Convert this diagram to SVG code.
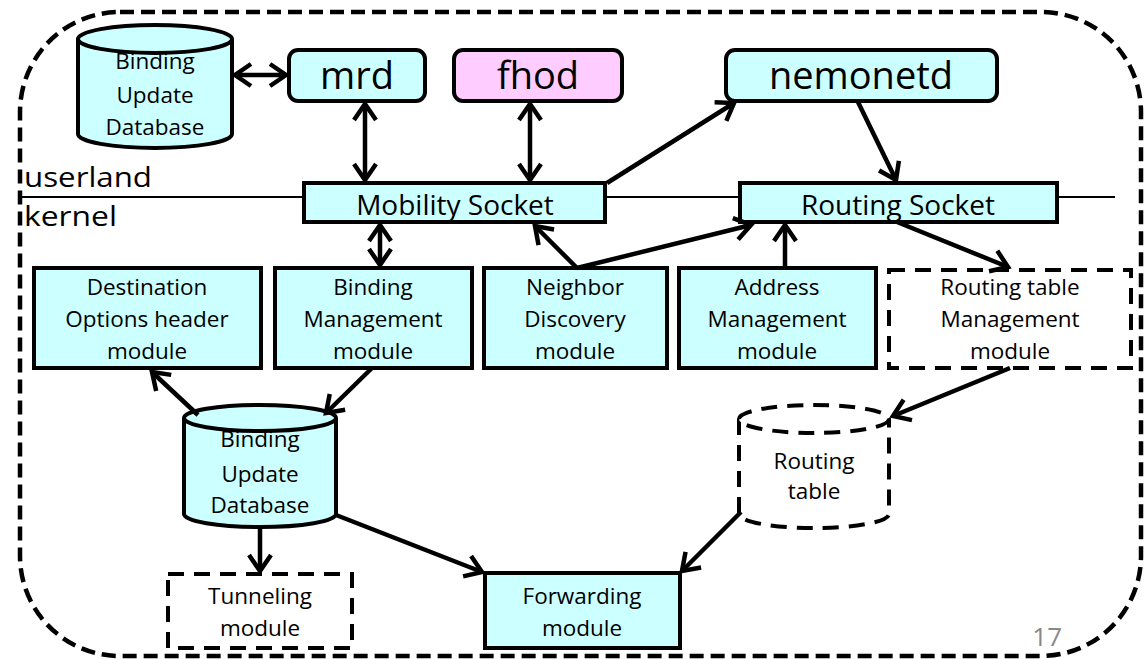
<svg xmlns="http://www.w3.org/2000/svg" width="1144" height="659" viewBox="0 0 1144 659">
<defs>
<marker id="ah" markerUnits="userSpaceOnUse" viewBox="-20 -14 26 28" markerWidth="26" markerHeight="28" refX="0" refY="0" orient="auto-start-reverse">
<path d="M-16,-11 L0,0 L-16,11" fill="none" stroke="#000" stroke-width="4.5" stroke-linejoin="miter"/>
</marker>
</defs>
<style>
text{font-family:"Open Sans","Noto Sans",sans-serif;fill:#000;text-anchor:middle}
.box{fill:#CCFFFF;stroke:#000;stroke-width:4}
.pink{fill:#FFCCFF;stroke:#000;stroke-width:4}
.dbox{fill:none;stroke:#000;stroke-width:4;stroke-dasharray:16 10}
.cyl{fill:#CCFFFF;stroke:#000;stroke-width:4}
.dcyl{fill:#fff;stroke:#000;stroke-width:4;stroke-dasharray:16 10}
.big{font-size:38px}
.sock{font-size:28px}
.mod{font-size:22.5px}
.side{font-size:28px;text-anchor:start}
.conn line{stroke:#000;stroke-width:4.5;marker-end:url(#ah)}
.conn line.both{marker-start:url(#ah)}
</style>
<rect id="boundary" x="20" y="12" width="1121" height="644" rx="100" ry="100" fill="none" stroke="#000" stroke-width="4.5" stroke-dasharray="14 7"/>
<line id="divider" x1="20" y1="197" x2="1115" y2="197" stroke="#000" stroke-width="2"/>
<text class="side" x="24" y="187" textLength="128" lengthAdjust="spacingAndGlyphs">userland</text>
<text class="side" x="24" y="226" textLength="93" lengthAdjust="spacingAndGlyphs">kernel</text>

<g id="bud-top">
<path class="cyl" d="M78,39 V134 A77,14 0 0 0 232,134 V39"/>
<text class="mod" x="155" y="69">Binding</text>
<text class="mod" x="155" y="103">Update</text>
<text class="mod" x="155" y="135">Database</text>
<ellipse class="cyl" cx="155" cy="39" rx="77" ry="14"/>
</g>
<g id="mrd"><rect class="box" x="289" y="50" width="136" height="51" rx="9"/><text class="big" x="357" y="89">mrd</text></g>
<g id="fhod"><rect class="pink" x="454" y="50" width="168" height="51" rx="9"/><text class="big" x="538" y="89">fhod</text></g>
<g id="nemonetd"><rect class="box" x="726" y="50" width="271" height="51" rx="9"/><text class="big" x="861" y="89">nemonetd</text></g>
<g id="mobility-socket"><rect class="box" x="304" y="183" width="301" height="39"/><text class="sock" x="455" y="215">Mobility Socket</text></g>
<g id="routing-socket"><rect class="box" x="740" y="183" width="317" height="39"/><text class="sock" x="898" y="215">Routing Socket</text></g>

<g id="dest-opt"><rect class="box" x="34" y="268" width="227" height="100"/><text class="mod" x="147" y="295">Destination</text><text class="mod" x="147" y="327">Options header</text><text class="mod" x="147" y="359">module</text></g>
<g id="binding-mgmt"><rect class="box" x="275" y="268" width="197" height="100"/><text class="mod" x="373" y="295">Binding</text><text class="mod" x="373" y="327">Management</text><text class="mod" x="373" y="359">module</text></g>
<g id="neighbor"><rect class="box" x="484" y="268" width="183" height="100"/><text class="mod" x="575" y="295">Neighbor</text><text class="mod" x="575" y="327">Discovery</text><text class="mod" x="575" y="359">module</text></g>
<g id="address-mgmt"><rect class="box" x="679" y="268" width="197" height="100"/><text class="mod" x="777" y="295">Address</text><text class="mod" x="777" y="327">Management</text><text class="mod" x="777" y="359">module</text></g>
<g id="rt-mgmt"><rect class="dbox" x="889" y="270" width="242" height="98"/><text class="mod" x="1010" y="295">Routing table</text><text class="mod" x="1010" y="327">Management</text><text class="mod" x="1010" y="359">module</text></g>

<g id="bud-kernel">
<path class="cyl" d="M184,418 V514 A76,13 0 0 0 336,514 V418"/>
<text class="mod" x="260" y="447">Binding</text>
<text class="mod" x="260" y="482">Update</text>
<text class="mod" x="260" y="513">Database</text>
<ellipse class="cyl" cx="260" cy="418" rx="76" ry="13"/>
</g>
<g id="routing-table">
<path class="dcyl" d="M739,419 V514 A75,14 0 0 0 889,514 V419"/>
<ellipse class="dcyl" cx="814" cy="419" rx="75" ry="14"/>
<text class="mod" x="814" y="469">Routing</text>
<text class="mod" x="814" y="499">table</text>
</g>
<g id="tunneling"><rect class="dbox" x="168" y="574" width="184" height="74"/><text class="mod" x="260" y="604">Tunneling</text><text class="mod" x="260" y="636">module</text></g>
<g id="forwarding"><rect class="box" x="485" y="573" width="195" height="75"/><text class="mod" x="582" y="604">Forwarding</text><text class="mod" x="582" y="636">module</text></g>

<g id="connectors" class="conn">
<line class="both" x1="235" y1="75" x2="286" y2="75"/>
<line class="both" x1="365" y1="104" x2="365" y2="180"/>
<line class="both" x1="530" y1="104" x2="530" y2="180"/>
<line x1="607" y1="183" x2="734" y2="103"/>
<line x1="858" y1="102" x2="896" y2="180"/>
<line class="both" x1="380" y1="225" x2="380" y2="265"/>
<line x1="577" y1="268" x2="535" y2="226"/>
<line x1="577" y1="268" x2="751" y2="225"/>
<line x1="785" y1="268" x2="785" y2="225"/>
<line x1="897" y1="222" x2="1008" y2="267"/>
<line x1="198" y1="415" x2="152" y2="372"/>
<line x1="372" y1="368" x2="326" y2="413"/>
<line x1="260" y1="527" x2="260" y2="571"/>
<line x1="336" y1="515" x2="482" y2="572"/>
<line x1="1010" y1="368" x2="893" y2="416"/>
<line x1="741" y1="512" x2="682" y2="571"/>
</g>
<text x="1062" y="646" style="font-size:26px;fill:#888;text-anchor:end">17</text>
</svg>
